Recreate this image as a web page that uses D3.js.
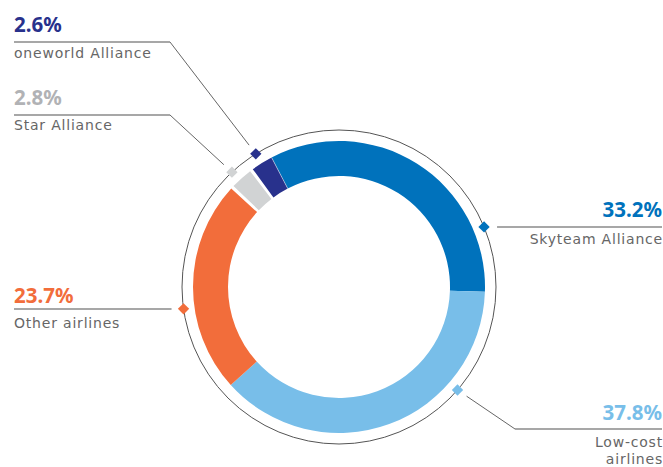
<!DOCTYPE html>
<html><head><meta charset="utf-8">
<script src="https://cdn.jsdelivr.net/npm/d3@7"></script>
<style>body{margin:0;background:#fff}svg{display:block}</style>
</head><body>
<svg id="c" width="663" height="467"></svg>
<script>
const categories = ["Skyteam Alliance", "Low-cost airlines", "Other airlines", "Star Alliance", "oneworld Alliance"];
const values = [33.2, 37.8, 23.7, 2.8, 2.6];
const valueLabels = ["33.2%", "37.8%", "23.7%", "2.8%", "2.6%"];
const sliceColors = ["#0072bc", "#78bee9", "#f26d3b", "#d1d3d4", "#28318c"];
const labelColors = ["#0072bc", "#78bee9", "#f26d3b", "#b1b2b5", "#28318c"];
const nameLines = [["Skyteam Alliance"], ["Low-cost", "airlines"], ["Other airlines"], ["Star Alliance"], ["oneworld Alliance"]];

const svg = d3.select("#c");
const cx = 339, cy = 287;
const rOuter = 146, rInner = 111, rRing = 157;
const deg = Math.PI / 180;

const pie = d3.pie().sort(null).value(d => d)
  .startAngle(-27.5 * deg).endAngle(332.5 * deg);
const arcs = pie(values);
// white gaps around the two small slices
const gap = 1.3 * deg;
arcs[2].endAngle -= gap / 2;
arcs[3].startAngle += gap / 2;
arcs[3].endAngle -= gap / 2;
arcs[4].startAngle += gap / 2;

const arc = d3.arc().innerRadius(rInner).outerRadius(rOuter);
const g = svg.append("g").attr("transform", `translate(${cx},${cy})`);
g.selectAll("path.slice").data(arcs).join("path")
  .attr("class", "slice").attr("d", arc).attr("fill", (d, i) => sliceColors[i]);
// thin separator between navy and blue
g.append("line")
  .attr("x1", Math.sin(-27.5 * deg) * rInner).attr("y1", -Math.cos(-27.5 * deg) * rInner)
  .attr("x2", Math.sin(-27.5 * deg) * rOuter).attr("y2", -Math.cos(-27.5 * deg) * rOuter)
  .attr("stroke", "#ffffff").attr("stroke-width", 0.8).attr("opacity", 0.6);

g.append("circle").attr("r", rRing).attr("fill", "none").attr("stroke", "#555").attr("stroke-width", 1);

// label layout
const layout = [
  {angle: 67.5, elbow: null, lineY: 227, x1: 662, side: "right", pctY: 217, nameY: 244},
  {angle: 131, elbow: [515, 429], lineY: 429, x1: 662, side: "right", pctY: 420, nameY: 447},
  {angle: 262, elbow: null, lineY: 309, x1: 14, side: "left", pctY: 303, nameY: 328},
  {angle: -43, elbow: [170, 115], lineY: 115, x1: 14, side: "left", pctY: 105, nameY: 130},
  {angle: -32, elbow: [170, 42], lineY: 42, x1: 14, side: "left", pctY: 32, nameY: 58}
];

layout.forEach((L, i) => {
  const a = L.angle * deg;
  const dx = cx + Math.sin(a) * rRing, dy = cy - Math.cos(a) * rRing;
  let elbow;
  if (L.elbow) {
    elbow = L.elbow;
    const vx = elbow[0] - dx, vy = elbow[1] - dy, len = Math.hypot(vx, vy);
    const p0 = [dx + vx / len * 11, dy + vy / len * 11];
    svg.append("line").attr("x1", p0[0]).attr("y1", p0[1]).attr("x2", elbow[0]).attr("y2", elbow[1])
      .attr("stroke", "#666").attr("stroke-width", 1);
  } else {
    elbow = [dx + (L.side === "right" ? 13 : -12), L.lineY];
  }
  svg.append("line").attr("x1", elbow[0]).attr("y1", L.lineY).attr("x2", L.x1).attr("y2", L.lineY)
    .attr("stroke", "#8a8a8a").attr("stroke-width", 1.5);
  svg.append("rect").attr("x", -4).attr("y", -4).attr("width", 8).attr("height", 8)
    .attr("fill", sliceColors[i])
    .attr("transform", `translate(${dx},${dy}) rotate(45)`);
  const anchor = L.side === "right" ? "end" : "start";
  svg.append("text").attr("x", L.x1).attr("y", L.pctY).attr("text-anchor", anchor)
    .attr("font-family", "'Noto Sans', sans-serif").attr("font-weight", 700)
    .attr("font-size", 20.5).attr("fill", labelColors[i]).text(valueLabels[i]);
  nameLines[i].forEach((t, j) => {
    svg.append("text").attr("x", L.side === "right" ? L.x1 + 1 : L.x1)
      .attr("y", L.nameY + j * 17).attr("text-anchor", anchor)
      .attr("font-family", "'DejaVu Sans', sans-serif").attr("font-size", 14)
      .attr("letter-spacing", 0.8)
      .attr("fill", "#666").text(t);
  });
});
</script>
</body></html>
